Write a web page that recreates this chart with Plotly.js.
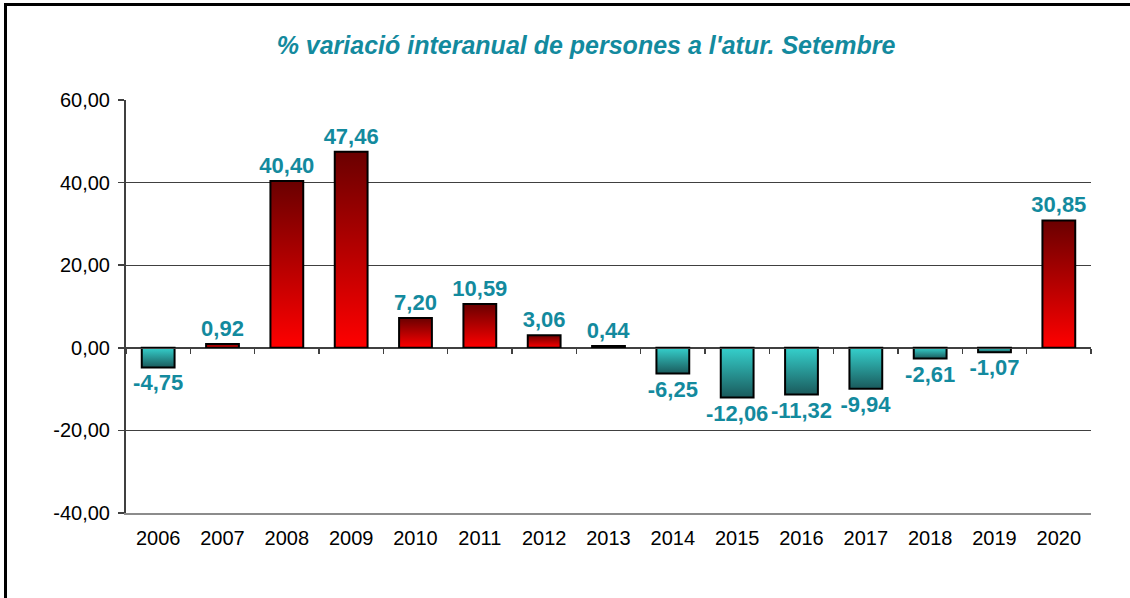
<!DOCTYPE html>
<html>
<head>
<meta charset="utf-8">
<script src="https://cdn.plot.ly/plotly-3.0.1.min.js"></script>
<style>
  html, body { margin: 0; padding: 0; background: #fff; overflow: hidden; }
  #chart { width: 1130px; height: 598px; position: relative; }
  #frame { position: absolute; left: 4px; top: 3px; width: 1300px; height: 800px;
           border-left: 3px solid #000; border-top: 3px solid #000; pointer-events: none; }
</style>
</head>
<body>
<div id="chart"></div>
<div id="frame"></div>
<script>
const years = ['2006','2007','2008','2009','2010','2011','2012','2013','2014','2015','2016','2017','2018','2019','2020'];
const values = [-4.75, 0.92, 40.40, 47.46, 7.20, 10.59, 3.06, 0.44, -6.25, -12.06, -11.32, -9.94, -2.61, -1.07, 30.85];
const yTickVals = [-40, -20, 0, 20, 40, 60];
const yTickLabels = ['-40,00', '-20,00', '0,00', '20,00', '40,00', '60,00'];
const titleText = "% variació interanual de persones a l'atur. Setembre";

const teal = '#138a9e';
const font = 'Arial, "Liberation Sans", sans-serif';

const traces = [
  {
    type: 'bar', x: years, y: values,
    marker: { color: values.map(v => v >= 0 ? '#c00000' : '#2aa8a8'), line: { color: '#000', width: 2 } },
    texttemplate: '%{y:.2f}', textposition: 'outside', cliponaxis: false, constraintext: 'none',
    textfont: { family: font, size: 22, color: teal, weight: 'bold' },
    hoverinfo: 'skip'
  },
  {
    type: 'bar', x: years, y: values, xaxis: 'x2', yaxis: 'y',
    marker: { color: 'rgba(0,0,0,0)' }, hoverinfo: 'skip', showlegend: false
  }
];

const layout = {
  width: 1130, height: 598,
  margin: { l: 126, r: 39, t: 100, b: 85 },
  paper_bgcolor: '#fff', plot_bgcolor: '#fff',
  showlegend: false,
  bargap: 0.49,
  separators: ',.',
  title: {
    text: '<b><i>' + titleText + '</i></b>',
    font: { family: font, size: 25, color: teal },
    x: 586/1130, xref: 'container', xanchor: 'center', y: 1 - 45/598, yref: 'container', yanchor: 'middle'
  },
  xaxis: {
    type: 'category', showline: true, linecolor: '#8c8c8c', linewidth: 2,
    ticks: '', showgrid: false, zeroline: false,
    tickfont: { family: font, size: 20, color: '#000' }, ticklabelstandoff: 6
  },
  xaxis2: {
    type: 'category', overlaying: 'x', anchor: 'free', position: 0.4, side: 'bottom',
    showline: true, linecolor: '#404040', linewidth: 1.5,
    ticks: 'outside', tickson: 'boundaries', ticklen: 5, tickcolor: '#404040', tickwidth: 1.5,
    showticklabels: false, showgrid: false, zeroline: false
  },
  yaxis: {
    range: [-40, 60], tickmode: 'array', tickvals: yTickVals, ticktext: yTickLabels,
    showline: true, linecolor: '#404040', linewidth: 2,
    ticks: 'outside', ticklen: 6, tickcolor: '#404040', tickwidth: 1.5,
    showgrid: true, gridcolor: '#404040', gridwidth: 1, zeroline: false,
    tickfont: { family: font, size: 20, color: '#000' }, ticklabelstandoff: 4
  },
  yaxis2: {
    overlaying: 'y', side: 'right', range: [-40, 60],
    showline: true, linecolor: '#8c8c8c', linewidth: 2,
    ticks: '', showticklabels: false, showgrid: false, zeroline: false
  }
};

Plotly.newPlot('chart', traces, layout, { staticPlot: true, displayModeBar: false }).then(gd => {
  const svgNS = 'http://www.w3.org/2000/svg';
  const svg = gd.querySelector('svg.main-svg');
  let defs = svg.querySelector('defs');
  if (!defs) { defs = document.createElementNS(svgNS, 'defs'); svg.insertBefore(defs, svg.firstChild); }
  function grad(id, c1, c2) {
    const g = document.createElementNS(svgNS, 'linearGradient');
    g.setAttribute('id', id);
    g.setAttribute('x1', '0'); g.setAttribute('y1', '0');
    g.setAttribute('x2', '0'); g.setAttribute('y2', '1');
    [[0, c1], [1, c2]].forEach(([o, c]) => {
      const s = document.createElementNS(svgNS, 'stop');
      s.setAttribute('offset', o); s.setAttribute('stop-color', c);
      g.appendChild(s);
    });
    defs.appendChild(g);
  }
  grad('gradPos', '#6a0000', '#ff0000');
  grad('gradNeg', '#35d0cc', '#1a5a5c');
  const traceEl = gd.querySelectorAll('.barlayer .trace')[0];
  const paths = traceEl.querySelectorAll('.point path');
  paths.forEach((p, i) => {
    p.style.fill = values[i] >= 0 ? 'url(#gradPos)' : 'url(#gradNeg)';
  });
});
</script>
</body>
</html>
